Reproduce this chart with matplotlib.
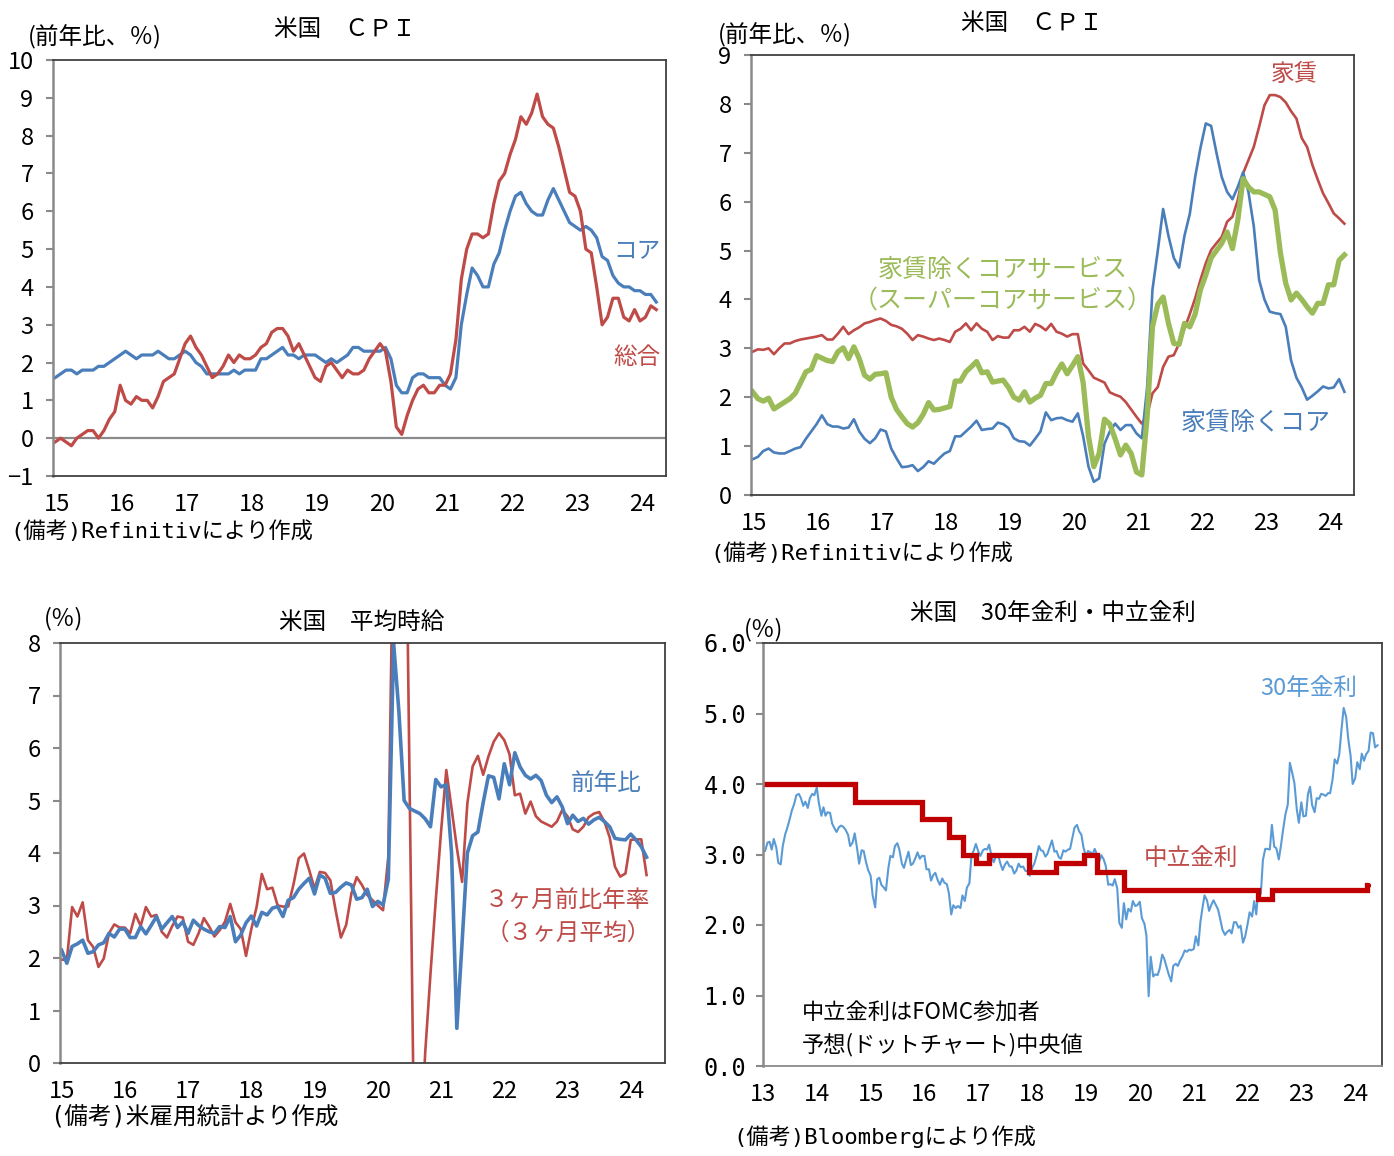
import matplotlib as mpl
mpl.use('Agg')
import matplotlib.pyplot as plt
import numpy as np
import pandas as pd

plt.rcParams['font.family'] = ['Noto Sans CJK JP', 'DejaVu Sans']

W, H = 1394, 1156

BLUE = '#4A7EBB'
RED = '#BE4B48'
GREEN = '#9BBB59'
LBLUE = '#5B9BD5'
DRED = '#C00000'
MONO = ['DejaVu Sans Mono', 'Noto Sans CJK JP']

year_labels = ['15', '16', '17', '18', '19', '20', '21', '22', '23', '24']

# --- panel 1: US CPI headline / core, yoy %, monthly 2015-01 .. 2024-04
cpi_headline = [
    -0.1, 0.0, -0.1, -0.2, 0.0, 0.1, 0.2, 0.2, 0.0, 0.2, 0.5, 0.7,
    1.4, 1.0, 0.9, 1.1, 1.0, 1.0, 0.8, 1.1, 1.5, 1.6, 1.7, 2.1,
    2.5, 2.7, 2.4, 2.2, 1.9, 1.6, 1.7, 1.9, 2.2, 2.0, 2.2, 2.1,
    2.1, 2.2, 2.4, 2.5, 2.8, 2.9, 2.9, 2.7, 2.3, 2.5, 2.2, 1.9,
    1.6, 1.5, 1.9, 2.0, 1.8, 1.6, 1.8, 1.7, 1.7, 1.8, 2.1, 2.3,
    2.5, 2.3, 1.5, 0.3, 0.1, 0.6, 1.0, 1.3, 1.4, 1.2, 1.2, 1.4,
    1.4, 1.7, 2.6, 4.2, 5.0, 5.4, 5.4, 5.3, 5.4, 6.2, 6.8, 7.0,
    7.5, 7.9, 8.5, 8.3, 8.6, 9.1, 8.5, 8.3, 8.2, 7.7, 7.1, 6.5,
    6.4, 6.0, 5.0, 4.9, 4.0, 3.0, 3.2, 3.7, 3.7, 3.2, 3.1, 3.4,
    3.1, 3.2, 3.5, 3.4]
cpi_core = [
    1.6, 1.7, 1.8, 1.8, 1.7, 1.8, 1.8, 1.8, 1.9, 1.9, 2.0, 2.1,
    2.2, 2.3, 2.2, 2.1, 2.2, 2.2, 2.2, 2.3, 2.2, 2.1, 2.1, 2.2,
    2.3, 2.2, 2.0, 1.9, 1.7, 1.7, 1.7, 1.7, 1.7, 1.8, 1.7, 1.8,
    1.8, 1.8, 2.1, 2.1, 2.2, 2.3, 2.4, 2.2, 2.2, 2.1, 2.2, 2.2,
    2.2, 2.1, 2.0, 2.1, 2.0, 2.1, 2.2, 2.4, 2.4, 2.3, 2.3, 2.3,
    2.3, 2.4, 2.1, 1.4, 1.2, 1.2, 1.6, 1.7, 1.7, 1.6, 1.6, 1.6,
    1.4, 1.3, 1.6, 3.0, 3.8, 4.5, 4.3, 4.0, 4.0, 4.6, 4.9, 5.5,
    6.0, 6.4, 6.5, 6.2, 6.0, 5.9, 5.9, 6.3, 6.6, 6.3, 6.0, 5.7,
    5.6, 5.5, 5.6, 5.5, 5.3, 4.8, 4.7, 4.3, 4.1, 4.0, 4.0, 3.9,
    3.9, 3.8, 3.8, 3.6]

# --- panel 2: shelter / core ex shelter / supercore, yoy %
cpi_shelter = [
    2.93, 2.98, 2.97, 3.0, 2.88, 3.0, 3.1, 3.1, 3.15, 3.18, 3.2, 3.22,
    3.24, 3.27, 3.18, 3.18, 3.3, 3.44, 3.29, 3.37, 3.43, 3.51, 3.54, 3.58,
    3.61, 3.56, 3.48, 3.45, 3.4, 3.3, 3.17, 3.27, 3.24, 3.2, 3.17, 3.2,
    3.17, 3.13, 3.34, 3.4, 3.51, 3.37, 3.51, 3.4, 3.34, 3.17, 3.25, 3.22,
    3.22, 3.37, 3.37, 3.44, 3.34, 3.5, 3.45, 3.37, 3.5, 3.34, 3.3, 3.24,
    3.29, 3.29, 2.69, 2.55, 2.4, 2.35, 2.3, 2.1, 2.05, 2.01, 1.9, 1.75,
    1.6, 1.46, 1.63, 2.08, 2.21, 2.62, 2.83, 2.86, 3.1, 3.4, 3.7, 4.02,
    4.4, 4.74, 5.01, 5.15, 5.28, 5.59, 5.69, 6.03, 6.58, 6.85, 7.12, 7.53,
    7.97, 8.18, 8.18, 8.14, 8.03, 7.85, 7.7, 7.3, 7.12, 6.75, 6.45, 6.17,
    5.97, 5.76, 5.66, 5.55]
cpi_core_ex_shelter = [
    0.73, 0.78, 0.9, 0.95, 0.87, 0.85, 0.85, 0.9, 0.95, 0.98, 1.15, 1.3,
    1.45, 1.63, 1.45, 1.4, 1.4, 1.36, 1.38, 1.55, 1.3, 1.15, 1.06, 1.16,
    1.34, 1.3, 0.95, 0.75, 0.57, 0.58, 0.61, 0.49, 0.57, 0.69, 0.64, 0.75,
    0.85, 0.9, 1.2, 1.2, 1.3, 1.4, 1.52, 1.33, 1.35, 1.36, 1.48, 1.45,
    1.37, 1.16, 1.1, 1.09, 1.01, 1.15, 1.3, 1.69, 1.53, 1.57, 1.58, 1.53,
    1.5, 1.67, 1.2, 0.58, 0.27, 0.34, 1.05, 1.3, 1.46, 1.33, 1.43, 1.43,
    1.26, 1.16, 2.2, 4.2, 5.0, 5.85, 5.3, 4.85, 4.65, 5.3, 5.75, 6.5,
    7.1, 7.6, 7.55, 7.0, 6.5, 6.2, 6.05, 6.3, 6.6, 6.2, 5.5, 4.4,
    4.0, 3.75, 3.72, 3.7, 3.44, 2.75, 2.4, 2.2, 1.95, 2.03, 2.12, 2.22,
    2.18, 2.2, 2.37, 2.11]
cpi_supercore = [
    2.11, 1.97, 1.92, 1.98, 1.76, 1.83, 1.9, 1.97, 2.08, 2.3, 2.52, 2.57,
    2.85, 2.8, 2.75, 2.73, 2.93, 3.01, 2.79, 3.03, 2.79, 2.45, 2.37, 2.47,
    2.48, 2.5, 2.0, 1.75, 1.6, 1.46, 1.39, 1.48, 1.65, 1.89, 1.74, 1.75,
    1.78, 1.81, 2.33, 2.33, 2.52, 2.62, 2.73, 2.5, 2.52, 2.31, 2.33, 2.35,
    2.2, 2.0, 1.94, 2.11, 1.9, 1.98, 2.04, 2.28, 2.28, 2.5, 2.68, 2.48,
    2.65, 2.83, 2.3, 1.2, 0.58, 0.85, 1.55, 1.45, 1.15, 0.82, 1.02, 0.85,
    0.47, 0.41, 1.6, 3.44, 3.9, 4.05, 3.51, 3.1, 3.08, 3.51, 3.44, 3.7,
    4.2, 4.5, 4.85, 5.0, 5.15, 5.38, 5.04, 5.62, 6.47, 6.3, 6.2, 6.2,
    6.15, 6.1, 5.83, 4.95, 4.33, 3.99, 4.13, 4.0, 3.85, 3.72, 3.92, 3.92,
    4.3, 4.3, 4.8, 4.91]

# --- panel 3: average hourly earnings, %
ahe_yoy = [
    2.15, 1.9, 2.22, 2.27, 2.34, 2.09, 2.12, 2.25, 2.29, 2.47, 2.4, 2.55,
    2.55, 2.39, 2.39, 2.6, 2.46, 2.62, 2.79, 2.55, 2.67, 2.79, 2.58, 2.69,
    2.47, 2.72, 2.62, 2.55, 2.5, 2.47, 2.6, 2.58, 2.79, 2.31, 2.44, 2.67,
    2.8, 2.61, 2.87, 2.82, 2.95, 2.98, 2.79, 3.1, 3.15, 3.31, 3.42, 3.52,
    3.22, 3.58, 3.52, 3.23, 3.25, 3.35, 3.43, 3.39, 3.12, 3.15, 3.31, 2.98,
    3.08, 3.01, 3.5, 8.0, 6.7, 5.0, 4.85, 4.8, 4.75, 4.65, 4.5, 5.4,
    5.26, 5.3, 4.0, 0.66, 2.3, 4.0, 4.33, 4.4, 4.96, 5.47, 5.44, 5.03,
    5.7, 5.3, 5.91, 5.64, 5.48, 5.41, 5.48, 5.38, 5.1, 4.96, 5.07, 4.88,
    4.56, 4.72, 4.6, 4.66, 4.55, 4.63, 4.68, 4.6, 4.5, 4.28, 4.26, 4.25,
    4.36, 4.25, 4.12, 3.92]
ahe_3m_ann = [
    1.97, 1.96, 2.97, 2.79, 3.06, 2.34, 2.21, 1.83, 1.99, 2.47, 2.64, 2.58,
    2.58, 2.47, 2.84, 2.61, 2.97, 2.79, 2.82, 2.5, 2.39, 2.61, 2.79, 2.77,
    2.31, 2.25, 2.47, 2.76, 2.6, 2.41, 2.53, 2.69, 3.03, 2.68, 2.55, 2.04,
    2.55, 2.97, 3.6, 3.31, 3.34, 3.0, 2.98, 2.98, 3.4, 3.9, 3.99, 3.67,
    3.32, 3.64, 3.62, 3.48, 2.91, 2.39, 2.63, 3.23, 3.54, 3.39, 3.2, 3.1,
    3.0, 2.91, 3.93, 10.7, 15.0, 13.6, 5.6, -2.4, -1.8, 0.2, 1.7, 3.1,
    4.4, 5.58, 4.85, 4.1, 3.45, 4.95, 5.65, 5.85, 5.49, 5.84, 6.12, 6.28,
    6.15, 5.88, 5.1, 5.13, 4.75, 4.98, 4.7, 4.6, 4.55, 4.5, 4.6, 4.82,
    4.7, 4.45, 4.4, 4.5, 4.68, 4.75, 4.78, 4.6, 4.3, 3.74, 3.55, 3.61,
    4.25, 4.26, 4.26, 3.58]

# --- panel 4: 30y treasury yield (1st / 15th of each month) and neutral rate
ust30_start = '2013-01-01'
ust30 = [
    3.04, 3.05, 3.17, 3.18, 3.07, 3.22, 3.10, 2.88, 2.86, 3.12, 3.29, 3.38,
    3.50, 3.62, 3.72, 3.84, 3.86, 3.80, 3.69, 3.75, 3.66, 3.80, 3.86, 3.84,
    3.95, 3.73, 3.55, 3.67, 3.55, 3.60, 3.59, 3.44, 3.37, 3.32, 3.39, 3.41,
    3.39, 3.35, 3.28, 3.12, 3.17, 3.30, 3.09, 2.87, 3.06, 3.05, 2.89, 2.78,
    2.70, 2.42, 2.25, 2.65, 2.67, 2.57, 2.53, 2.49, 2.80, 2.98, 2.96, 3.12,
    3.16, 3.07, 2.87, 2.81, 2.94, 3.04, 2.85, 2.87, 2.95, 3.03, 2.94, 2.98,
    2.98, 2.79, 2.79, 2.63, 2.71, 2.74, 2.63, 2.57, 2.66, 2.60, 2.58, 2.45,
    2.15, 2.28, 2.24, 2.27, 2.24, 2.42, 2.34, 2.53, 2.59, 2.98, 3.06, 3.15,
    3.04, 2.98, 3.06, 3.08, 3.07, 3.14, 2.97, 2.89, 2.98, 2.99, 2.86, 2.78,
    2.86, 2.90, 2.83, 2.83, 2.73, 2.77, 2.87, 2.82, 2.83, 2.77, 2.76, 2.70,
    2.81, 2.87, 2.99, 3.12, 3.06, 3.05, 2.97, 3.01, 3.11, 3.20, 3.04, 3.05,
    2.96, 2.94, 3.06, 3.04, 3.07, 3.08, 3.24, 3.38, 3.42, 3.33, 3.28, 3.10,
    2.97, 3.05, 3.03, 3.00, 3.08, 3.01, 2.90, 2.99, 2.93, 2.84, 2.57, 2.58,
    2.56, 2.65, 2.52, 2.03, 1.96, 2.31, 2.08, 2.23, 2.19, 2.34, 2.27, 2.28,
    2.33, 2.10, 2.02, 1.85, 0.99, 1.55, 1.27, 1.30, 1.29, 1.38, 1.58, 1.52,
    1.40, 1.30, 1.20, 1.42, 1.45, 1.42, 1.50, 1.55, 1.64, 1.62, 1.65, 1.64,
    1.66, 1.84, 1.71, 2.04, 2.24, 2.42, 2.35, 2.20, 2.29, 2.35, 2.28, 2.22,
    2.07, 1.93, 1.86, 1.90, 1.93, 1.88, 2.04, 2.04, 1.96, 1.99, 1.75, 1.83,
    2.01, 2.18, 2.12, 2.34, 2.15, 2.50, 2.44, 2.92, 3.08, 3.08, 3.07, 3.42,
    3.11, 3.09, 2.93, 3.12, 3.38, 3.57, 3.71, 4.30, 4.15, 4.01, 3.64, 3.45,
    3.74, 3.54, 3.55, 3.86, 3.96, 3.70, 3.60, 3.80, 3.79, 3.86, 3.85, 3.83,
    3.87, 3.87, 4.07, 4.35, 4.29, 4.42, 4.79, 5.08, 4.95, 4.64, 4.40, 4.00,
    4.08, 4.31, 4.21, 4.43, 4.33, 4.42, 4.47, 4.73, 4.72, 4.52, 4.55]
neutral_dates = ['2013-01-01', '2014-09-17', '2015-12-16', '2016-06-15',
                 '2016-09-21', '2016-12-14', '2017-03-15', '2017-12-13',
                 '2018-06-13', '2018-12-19', '2019-03-20', '2019-09-18',
                 '2022-03-16', '2022-06-15', '2024-03-20', '2024-03-28']
neutral_rate = [4.0, 3.75, 3.5, 3.25, 3.0, 2.875, 3.0, 2.75,
                2.875, 3.0, 2.75, 2.5, 2.375, 2.5, 2.5625, 2.5625]
rate_years = ['13', '14', '15', '16', '17', '18', '19', '20', '21', '22', '23', '24']


def rect(l, t, r, b):
    return [l / W, 1 - b / H, (r - l) / W, (b - t) / H]


def put(x, y, s, **kw):
    kw.setdefault('fontsize', 16)
    kw.setdefault('va', 'center')
    fig.text(x / W, 1 - y / H, s, **kw)


def style(ax, ypad=9):
    for side in ['top', 'right', 'bottom']:
        ax.spines[side].set_color('#404040')
        ax.spines[side].set_linewidth(1.3)
    ax.spines['left'].set_color('#8a8a8a')
    ax.spines['left'].set_linewidth(1.8)
    ax.tick_params(axis='y', length=5, width=1.5, color='#8a8a8a',
                   labelsize=17, pad=ypad)
    ax.tick_params(axis='x', length=0, labelsize=17, pad=12)


fig = plt.figure(figsize=(W / 100, H / 100), dpi=100)

# ---------------- panel 1
ax1 = fig.add_axes(rect(53, 60, 666, 476))
m = np.arange(len(cpi_headline))
ax1.axhline(0, color='#8a8a8a', lw=1.6)
ax1.plot(m, cpi_core, color=BLUE, lw=2.3)
ax1.plot(m, cpi_headline, color=RED, lw=2.3)
ax1.set_xlim(-0.4, 112.8)
ax1.set_ylim(-1, 10)
ax1.set_yticks(range(-1, 11))
ax1.set_yticklabels(['−1'] + [str(v) for v in range(0, 11)])
ax1.set_xticks(np.arange(0, 120, 12) + 0.4)
ax1.set_xticklabels(year_labels)
style(ax1)
put(28, 37, '(前年比、％)', fontsize=17)
put(345, 30, '米国　ＣＰＩ', ha='center', fontsize=17)
put(637, 252, 'コア', ha='center', color=BLUE, fontsize=17)
put(637, 358, '総合', ha='center', color=RED, fontsize=17)
put(10, 531, '(備考)Refinitivにより作成', family=MONO, fontsize=16)

# ---------------- panel 2
ax2 = fig.add_axes(rect(751, 55, 1354, 495))
m = np.arange(len(cpi_shelter))
ax2.plot(m, cpi_shelter, color=RED, lw=1.9)
ax2.plot(m, cpi_core_ex_shelter, color=BLUE, lw=1.9)
ax2.plot(m, cpi_supercore, color=GREEN, lw=3.8)
ax2.set_xlim(-0.3, 112.8)
ax2.set_ylim(0, 9)
ax2.set_yticks(range(0, 10))
ax2.set_xticks(np.arange(0, 120, 12) + 0.3)
ax2.set_xticklabels(year_labels)
style(ax2)
put(718, 35, '(前年比、％)', fontsize=17)
put(1032, 24, '米国　ＣＰＩ', ha='center', fontsize=17)
put(1294, 74, '家賃', ha='center', color=RED, fontsize=17)
put(1003, 270, '家賃除くコアサービス', ha='center', color=GREEN, fontsize=18)
put(1003, 301, '（スーパーコアサービス）', ha='center', color=GREEN, fontsize=18)
put(1256, 423, '家賃除くコア', ha='center', color=BLUE, fontsize=18)
put(710, 553, '(備考)Refinitivにより作成', family=MONO, fontsize=16)

# ---------------- panel 3
ax3 = fig.add_axes(rect(60, 643, 665, 1063))
m = np.arange(len(ahe_yoy))
ax3.plot(m, ahe_3m_ann, color=RED, lw=1.9)
ax3.plot(m, ahe_yoy, color=BLUE, lw=2.6)
ax3.set_xlim(-0.3, 114.5)
ax3.set_ylim(0, 8)
ax3.set_yticks(range(0, 9))
ax3.set_xticks(np.arange(0, 120, 12))
ax3.set_xticklabels(year_labels)
style(ax3)
put(44, 619, '(％)', fontsize=17)
put(362, 622, '米国　平均時給', ha='center', fontsize=17)
put(606, 783, '前年比', ha='center', color=BLUE, fontsize=17)
put(568, 901, '３ヶ月前比年率', ha='center', color=RED, fontsize=17)
put(568, 933, '（３ヶ月平均）', ha='center', color=RED, fontsize=17)
put(50, 1117, '(備考)米雇用統計より作成', family=MONO, fontsize=17)

# ---------------- panel 4
ax4 = fig.add_axes(rect(763, 643, 1382, 1066))
d30 = pd.date_range(ust30_start, periods=len(ust30), freq='SMS')
ax4.plot(d30, ust30, color=LBLUE, lw=1.5)
ax4.step(pd.to_datetime(neutral_dates), neutral_rate, where='post',
         color=DRED, lw=3.8, solid_capstyle='round', solid_joinstyle='miter')
ax4.set_xlim(pd.Timestamp('2013-01-01'), pd.Timestamp('2024-07-01'))
ax4.set_ylim(0, 6)
ax4.set_yticks(np.arange(0, 6.5, 1.0))
ax4.set_yticklabels(['%.1f' % v for v in np.arange(0, 6.5, 1.0)],
                    family=MONO)
ax4.set_xticks(pd.to_datetime(['20%s-01-01' % y for y in rate_years]))
ax4.set_xticklabels(rate_years)
style(ax4, ypad=7)
ax4.spines['bottom'].set_color('#8a8a8a')
put(744, 630, '(％)', fontsize=17)
put(1053, 613, '米国　30年金利・中立金利', ha='center', fontsize=17)
put(1309, 688, '30年金利', ha='center', color=LBLUE, fontsize=17)
put(1191, 858, '中立金利', ha='center', color=RED, fontsize=17)
put(802, 1013, '中立金利はFOMC参加者', fontsize=16)
put(802, 1045, '予想(ドットチャート)中央値', fontsize=16)
put(733, 1137, '(備考)Bloombergにより作成', family=MONO, fontsize=16)

fig.savefig('out.png', dpi=100, facecolor='white')
